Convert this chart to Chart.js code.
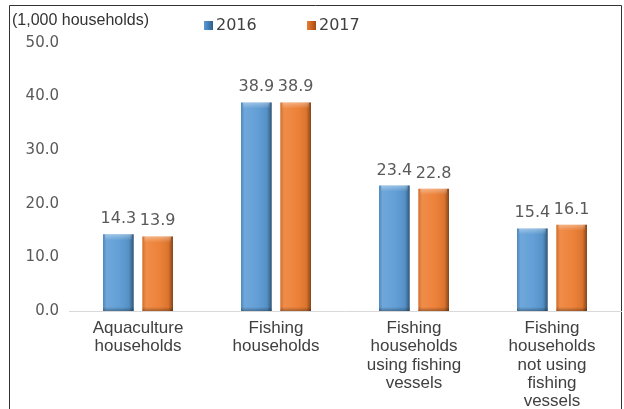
<!DOCTYPE html>
<html>
<head>
<meta charset="utf-8">
<script src="https://cdn.jsdelivr.net/npm/chart.js@4.4.3/dist/chart.umd.min.js"></script>
<style>
  html, body { margin: 0; padding: 0; background: #fff; }
  #wrap { position: relative; width: 624px; height: 409px; }
</style>
</head>
<body>
<div id="wrap"><canvas id="chart" width="624" height="409"></canvas></div>
<script>
const categories = [
  ["Aquaculture", "households"],
  ["Fishing", "households"],
  ["Fishing", "households", "using fishing", "vessels"],
  ["Fishing", "households", "not using", "fishing", "vessels"],
];
const years = ["2016", "2017"];
const values2016 = [14.3, 38.9, 23.4, 15.4];
const values2017 = [13.9, 38.9, 22.8, 16.1];
const unitLabel = "(1,000 households)";

const blue = "#5b9bd5";
const orange = "#ed7d31";
const textGray = "#595959";

// frame, unit label and legend
const decorPlugin = {
  id: "decor",
  beforeDraw(chart) {
    const ctx = chart.ctx;
    ctx.save();
    ctx.strokeStyle = "#333";
    ctx.lineWidth = 1;
    ctx.beginPath();
    ctx.moveTo(9.5, 420);
    ctx.lineTo(9.5, 5.5);
    ctx.lineTo(621.5, 5.5);
    ctx.lineTo(621.5, 420);
    ctx.stroke();
    ctx.restore();
  },
  afterDraw(chart) {
    const ctx = chart.ctx;
    ctx.save();
    ctx.textBaseline = "middle";
    ctx.fillStyle = "#333";
    ctx.font = "16px 'Liberation Sans', sans-serif";
    ctx.fillText(unitLabel, 12, 21);
    const legendX = [204, 307];
    chart.data.datasets.forEach((ds, i) => {
      const x = legendX[i];
      const g = ctx.createLinearGradient(x, 0, x + 9, 0);
      g.addColorStop(0, ds.backgroundColor);
      g.addColorStop(1, i === 0 ? "#2e5f8f" : "#a44c14");
      ctx.fillStyle = g;
      ctx.fillRect(x, 21, 9, 9);
      ctx.fillStyle = "#404040";
      ctx.font = "16px 'DejaVu Sans', sans-serif";
      ctx.fillText(ds.label, x + 12, 26);
    });
    ctx.restore();
  },
};

// bevel shading and value labels on bars
const barPlugin = {
  id: "barLook",
  afterDatasetsDraw(chart) {
    const ctx = chart.ctx;
    ctx.save();
    chart.data.datasets.forEach((ds, di) => {
      const meta = chart.getDatasetMeta(di);
      meta.data.forEach((bar, i) => {
        const { x, y, width, base } = bar.getProps(["x", "y", "width", "base"], true);
        const left = x - width / 2;
        const h = base - y;
        const g = ctx.createLinearGradient(left, 0, left + width, 0);
        g.addColorStop(0, "rgba(0,0,0,0.12)");
        g.addColorStop(0.12, "rgba(255,255,255,0.12)");
        g.addColorStop(0.5, "rgba(255,255,255,0.05)");
        g.addColorStop(0.85, "rgba(0,0,0,0.08)");
        g.addColorStop(1, "rgba(0,0,0,0.45)");
        ctx.fillStyle = g;
        ctx.fillRect(left, y, width, h);
        const t = ctx.createLinearGradient(0, y, 0, y + 6);
        t.addColorStop(0, "rgba(255,255,255,0.35)");
        t.addColorStop(1, "rgba(255,255,255,0)");
        ctx.fillStyle = t;
        ctx.fillRect(left + 2, y, width - 4, 6);
        const b = ctx.createLinearGradient(0, base - 4, 0, base);
        b.addColorStop(0, "rgba(0,0,0,0)");
        b.addColorStop(1, "rgba(0,0,0,0.3)");
        ctx.fillStyle = b;
        ctx.fillRect(left, base - 4, width, 4);

        ctx.fillStyle = textGray;
        ctx.font = "16px 'DejaVu Sans', sans-serif";
        ctx.textAlign = "center";
        ctx.textBaseline = "alphabetic";
        ctx.fillText(ds.data[i].toFixed(1), x, y - 11);
      });
    });
    ctx.restore();
  },
};

new Chart(document.getElementById("chart"), {
  type: "bar",
  data: {
    labels: categories,
    datasets: [
      { label: years[0], data: values2016, backgroundColor: blue },
      { label: years[1], data: values2017, backgroundColor: orange },
    ],
  },
  options: {
    responsive: false,
    animation: false,
    barPercentage: 0.78,
    categoryPercentage: 0.57,
    layout: { padding: { top: 43, right: 3, left: 0, bottom: 0 } },
    plugins: {
      legend: { display: false },
      tooltip: { enabled: false },
    },
    scales: {
      x: {
        grid: { display: false },
        border: { color: "#d9d9d9", width: 1 },
        ticks: {
          color: "#404040",
          font: { family: "'Liberation Sans', sans-serif", size: 17, lineHeight: 1.08 },
          maxRotation: 0,
          autoSkip: false,
          padding: 0,
        },
        afterFit(scale) { scale.height = 98; },
      },
      y: {
        min: 0,
        max: 50,
        grid: { display: false, drawTicks: false },
        border: { display: false },
        ticks: {
          stepSize: 10,
          color: textGray,
          padding: 10,
          font: { family: "'DejaVu Sans', sans-serif", size: 15 },
          callback: (v) => v.toFixed(1),
        },
        afterFit(scale) { scale.width = 69; },
      },
    },
  },
  plugins: [decorPlugin, barPlugin],
});
</script>
</body>
</html>
